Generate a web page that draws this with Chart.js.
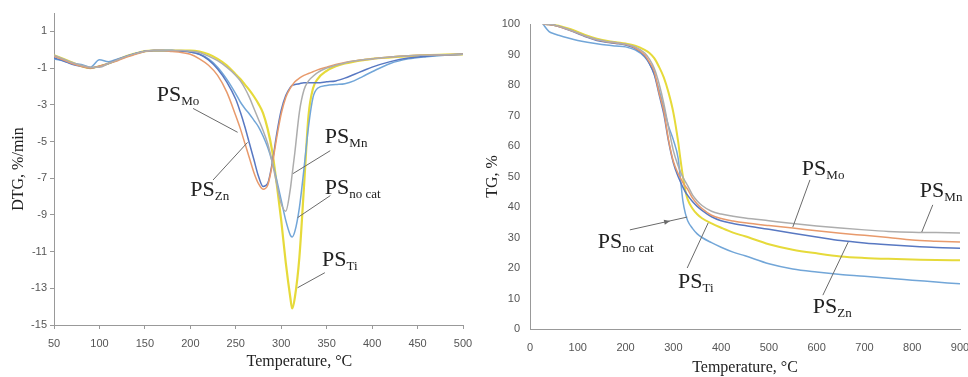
<!DOCTYPE html>
<html lang="en">
<head>
<meta charset="UTF-8">
<title>DTG and TG curves of PS samples</title>
<script src="https://cdn.jsdelivr.net/npm/chart.js"></script>
<style>
  body { margin: 0; background: #fff; }
  #wrap { position: relative; width: 968px; height: 377px; }
  #dtg { position: absolute; left: 0; top: 0; }
  #tg { position: absolute; left: 480px; top: 0; }
</style>
</head>
<body>
<div id="wrap">
  <canvas id="dtg" width="480" height="377"></canvas>
  <canvas id="tg" width="488" height="377"></canvas>
</div>
<script>
// ---- DTG panel (left) ----
const dtgT = [50,60,70,80,90,100,110,120,130,140,150,160,170,180,190,200,
  210,220,230,240,250,255,260,265,270,275,280,285,290,295,300,305,310,312,
  315,320,325,330,335,340,350,360,370,380,390,400,420,440,460,480,500];
const dtgMo = [-0.35,-0.55,-0.75,-0.9,-1.0,-0.9,-0.75,-0.6,-0.4,-0.25,-0.1,-0.05,-0.05,-0.1,-0.15,-0.25,
  -0.5,-0.85,-1.4,-2.3,-3.6,-4.3,-5.1,-5.9,-6.7,-7.3,-7.6,-7.4,-6.3,-4.8,-3.5,-2.6,-2.1,-1.95,
  -1.75,-1.55,-1.4,-1.3,-1.2,-1.1,-0.95,-0.8,-0.7,-0.62,-0.55,-0.5,-0.4,-0.33,-0.3,-0.27,-0.25];
const dtgZn = [-0.45,-0.6,-0.8,-0.9,-1.0,-0.9,-0.75,-0.55,-0.35,-0.2,-0.08,-0.05,-0.05,-0.05,-0.08,-0.12,
  -0.25,-0.55,-1.05,-1.75,-2.7,-3.4,-4.2,-5.1,-6.0,-6.9,-7.45,-7.3,-6.2,-4.6,-3.3,-2.5,-2.05,-1.95,
  -1.9,-1.85,-1.8,-1.8,-1.8,-1.8,-1.75,-1.7,-1.55,-1.35,-1.15,-0.95,-0.65,-0.45,-0.35,-0.28,-0.25];
const dtgMn = [-0.3,-0.5,-0.7,-0.85,-0.95,-0.95,-0.75,-0.55,-0.35,-0.2,-0.08,-0.05,-0.05,-0.05,-0.05,-0.08,
  -0.15,-0.35,-0.6,-0.95,-1.4,-1.7,-2.1,-2.6,-3.2,-3.8,-4.4,-5.1,-6.1,-7.3,-8.4,-8.8,-7.6,-6.8,
  -5.6,-3.4,-2.2,-1.7,-1.45,-1.25,-1.0,-0.85,-0.72,-0.62,-0.55,-0.5,-0.4,-0.33,-0.3,-0.27,-0.25];
const dtgNoCat = [-0.5,-0.6,-0.75,-0.8,-0.95,-0.55,-0.65,-0.5,-0.35,-0.2,-0.08,-0.05,-0.05,-0.05,-0.08,-0.12,
  -0.25,-0.5,-0.95,-1.6,-2.4,-2.85,-3.2,-3.5,-3.85,-4.2,-4.7,-5.3,-6.1,-7.1,-8.2,-9.3,-10.1,-10.2,
  -9.9,-8.6,-6.5,-4.2,-2.6,-2.1,-1.95,-1.9,-1.85,-1.7,-1.45,-1.2,-0.75,-0.5,-0.38,-0.3,-0.25];
const dtgTi = [-0.3,-0.5,-0.7,-0.9,-1.0,-0.9,-0.75,-0.55,-0.35,-0.2,-0.08,-0.05,-0.05,-0.05,-0.05,-0.05,
  -0.1,-0.25,-0.5,-0.85,-1.35,-1.6,-1.9,-2.2,-2.55,-2.95,-3.45,-4.3,-5.5,-7.3,-9.3,-11.6,-13.5,-14.1,
  -13.5,-11.3,-7.5,-3.6,-2.1,-1.6,-1.15,-0.9,-0.75,-0.65,-0.57,-0.5,-0.42,-0.35,-0.3,-0.27,-0.25];
const dtgTicks = [-15,-13,-11,-9,-7,-5,-3,-1,1];

// ---- TG panel (right) ----
const tgT = [27,40,50,60,80,100,120,140,160,180,200,220,240,250,260,270,280,290,300,310,
  315,320,325,330,340,350,360,380,400,425,450,500,550,600,650,700,750,800,850,900];
const tgMo = [100,99.8,99.6,99.2,98.2,97,95.8,94.8,94.2,93.8,93.3,92.2,89.8,87.5,84.5,77.5,71.5,62,55,51,
  49.5,48,46.8,45.8,43,41,39.5,37.3,36.2,35.4,34.8,33.9,33.1,32.2,31.4,30.7,30,29.2,28.8,28.5];
const tgZn = [100,99.8,99.6,99.2,98.1,96.9,95.6,94.6,94,93.6,93.1,92,89.5,87,83.5,77,70.5,61.5,54.5,50,
  48.2,46.5,45,43.8,41.8,40.2,38.9,36.8,35.5,34.6,33.9,32.7,31.4,30.2,29,28.2,27.6,27.1,26.7,26.5];
const tgMn = [100,99.9,99.7,99.3,98.3,97.1,95.9,94.9,94.3,93.9,93.4,92.5,90.5,88.5,85.5,80.5,74,66,58.5,53.5,
  51.5,49.8,48.3,47,44,42,40.5,38.6,37.7,37,36.4,35.5,34.6,33.8,33.1,32.5,32,31.7,31.6,31.5];
const tgNoCat = [100,97.5,96.8,96.3,95.4,94.6,94,93.5,93.1,92.8,92.5,91.5,89.2,87,83.5,78.5,72.5,66.5,62,56,
  49,42,38,35.5,33,31.2,30,28.3,26.8,25.2,24,21.4,19.7,18.7,17.9,17.3,16.6,16,15.4,14.8];
const tgTi = [100,99.9,99.7,99.4,98.5,97.4,96.2,95.2,94.5,94,93.6,92.9,91.5,90.5,88.8,86,82.5,77.5,71,61.5,
  55.5,50,45.5,42.5,39.5,37.6,36.3,34.6,33.2,31.6,30.4,27.8,26,24.8,23.8,23.3,23,22.8,22.6,22.5];

const colors = { Mo: '#E89A6C', Zn: '#5878C2', Mn: '#ADADAD', NoCat: '#72A6D8', Ti: '#E6DA3A' };

function pts(xs, ys) { return xs.map((t, i) => ({ x: t, y: ys[i] })); }
function line(data, color, w) {
  return { data, borderColor: color, borderWidth: w, pointRadius: 0, fill: false,
           cubicInterpolationMode: 'monotone' };
}

// label annotations, in data units: text anchor, leader line start and end
const dtgNotes = [
  { sub: 'Mo', at: [163, -2.8], from: [203, -3.2], to: [252, -4.5] },
  { sub: 'Zn', at: [200, -7.95], from: [225, -7.1], to: [263, -5.05] },
  { sub: 'Mn', at: [348, -5.1], from: [354, -5.5], to: [313, -6.75] },
  { sub: 'no cat', at: [348, -7.85], from: [354, -7.95], to: [318, -9.15] },
  { sub: 'Ti', at: [345, -11.8], from: [348, -12.15], to: [318, -12.97] }
];
const tgNotes = [
  { sub: 'Mo', at: [569, 50.5], from: [586, 48.9], to: [550, 33.4] },
  { sub: 'Mn', at: [816, 43.3], from: [843, 40.7], to: [820, 31.8] },
  { sub: 'no cat', at: [142, 26.6], from: [209, 32.5], to: [329, 36.7], arrow: true },
  { sub: 'Ti', at: [310, 13.4], from: [329, 20], to: [373, 34.8] },
  { sub: 'Zn', at: [592, 5.2], from: [613, 11.1], to: [666, 28.5] }
];

const notesPlugin = {
  id: 'notes',
  afterDraw(chart, args, opts) {
    const { ctx, scales: { x, y }, chartArea } = chart;
    ctx.save();
    (opts.items || []).forEach(n => {
      const fx = x.getPixelForValue(n.from[0]), fy = y.getPixelForValue(n.from[1]);
      const tx = x.getPixelForValue(n.to[0]), ty = y.getPixelForValue(n.to[1]);
      ctx.strokeStyle = '#6a6a6a';
      ctx.lineWidth = 1;
      ctx.beginPath(); ctx.moveTo(fx, fy); ctx.lineTo(tx, ty); ctx.stroke();
      if (n.arrow) {
        const a = Math.atan2(ty - fy, tx - fx);
        const mx = fx + (tx - fx) * 0.6, my = fy + (ty - fy) * 0.6;
        ctx.fillStyle = '#6a6a6a';
        ctx.beginPath();
        ctx.moveTo(mx + 6 * Math.cos(a), my + 6 * Math.sin(a));
        ctx.lineTo(mx + 2.5 * Math.sin(a), my - 2.5 * Math.cos(a));
        ctx.lineTo(mx - 2.5 * Math.sin(a), my + 2.5 * Math.cos(a));
        ctx.closePath(); ctx.fill();
      }
      const lx = x.getPixelForValue(n.at[0]), ly = y.getPixelForValue(n.at[1]);
      ctx.fillStyle = '#222';
      ctx.textAlign = 'left';
      ctx.textBaseline = 'alphabetic';
      ctx.font = '22px "Liberation Serif"';
      ctx.fillText('PS', lx, ly);
      const w = ctx.measureText('PS').width;
      ctx.font = '13px "Liberation Serif"';
      ctx.fillText(n.sub, lx + w, ly + 4);
    });
    if (opts.xTitle) {
      ctx.fillStyle = '#222';
      ctx.font = '16px "Liberation Serif"';
      ctx.textAlign = 'center';
      ctx.textBaseline = 'middle';
      ctx.fillText(opts.xTitle, chartArea.left + (chartArea.right - chartArea.left) * 0.6, chart.height - 15);
    }
    ctx.restore();
  }
};

const tickFont = { family: '"Liberation Sans", Arial, sans-serif', size: 11 };
const titleFont = { family: '"Liberation Serif", "Times New Roman", serif', size: 16 };

new Chart(document.getElementById('dtg'), {
  type: 'line',
  data: {
    datasets: [
      line(pts(dtgT, dtgMn), colors.Mn, 1.5),
      line(pts(dtgT, dtgMo), colors.Mo, 1.5),
      line(pts(dtgT, dtgZn), colors.Zn, 1.5),
      line(pts(dtgT, dtgNoCat), colors.NoCat, 1.5),
      line(pts(dtgT, dtgTi), colors.Ti, 2.2)
    ]
  },
  options: {
    responsive: false, animation: false, devicePixelRatio: 1,
    layout: { padding: { top: 13, right: 17, left: 0, bottom: 0 } },
    plugins: { legend: { display: false }, tooltip: { enabled: false },
               notes: { items: dtgNotes, xTitle: 'Temperature, °C' } },
    scales: {
      x: {
        type: 'linear', min: 50, max: 500,
        afterFit: s => { s.height = 52; s.paddingLeft = 0; s.paddingRight = 0; },
        ticks: { stepSize: 50, color: '#555', font: tickFont, padding: 8, maxRotation: 0 },
        grid: { drawOnChartArea: false, drawTicks: true, tickLength: 4, color: '#999' },
        border: { color: '#999' }
      },
      y: {
        min: -15, max: 2,
        afterFit: s => { s.width = 54; },
        afterBuildTicks: s => { s.ticks = dtgTicks.map(v => ({ value: v })); },
        ticks: { color: '#555', font: tickFont, padding: 3 },
        grid: { drawOnChartArea: false, drawTicks: true, tickLength: 4, color: '#999' },
        border: { color: '#999' },
        title: { display: true, text: 'DTG, %/min', color: '#222', font: titleFont,
                 padding: { top: 9, bottom: 0 } }
      }
    }
  },
  plugins: [notesPlugin]
});

new Chart(document.getElementById('tg'), {
  type: 'line',
  data: {
    datasets: [
      line(pts(tgT, tgMn), colors.Mn, 1.5),
      line(pts(tgT, tgMo), colors.Mo, 1.5),
      line(pts(tgT, tgZn), colors.Zn, 1.5),
      line(pts(tgT, tgNoCat), colors.NoCat, 1.5),
      line(pts(tgT, tgTi), colors.Ti, 2)
    ]
  },
  options: {
    responsive: false, animation: false, devicePixelRatio: 1,
    layout: { padding: { top: 24, right: 8, left: 0, bottom: 0 } },
    plugins: { legend: { display: false }, tooltip: { enabled: false },
               notes: { items: tgNotes } },
    scales: {
      x: {
        type: 'linear', min: 0, max: 900,
        afterFit: s => { s.height = 48; s.paddingLeft = 0; s.paddingRight = 0; },
        ticks: { stepSize: 100, color: '#555', font: tickFont, padding: 12, maxRotation: 0 },
        grid: { display: false, drawTicks: false },
        border: { color: '#999' },
        title: { display: true, text: 'Temperature, °C', color: '#222', font: titleFont,
                 padding: { top: 0, bottom: 0 } }
      },
      y: {
        min: 0, max: 100,
        afterFit: s => { s.width = 50; },
        ticks: { stepSize: 10, color: '#555', font: tickFont, padding: 10 },
        grid: { display: false, drawTicks: false },
        border: { color: '#999' },
        title: { display: true, text: 'TG, %', color: '#222', font: titleFont,
                 padding: { top: 3, bottom: 0 } }
      }
    }
  },
  plugins: [notesPlugin]
});
</script>
</body>
</html>
